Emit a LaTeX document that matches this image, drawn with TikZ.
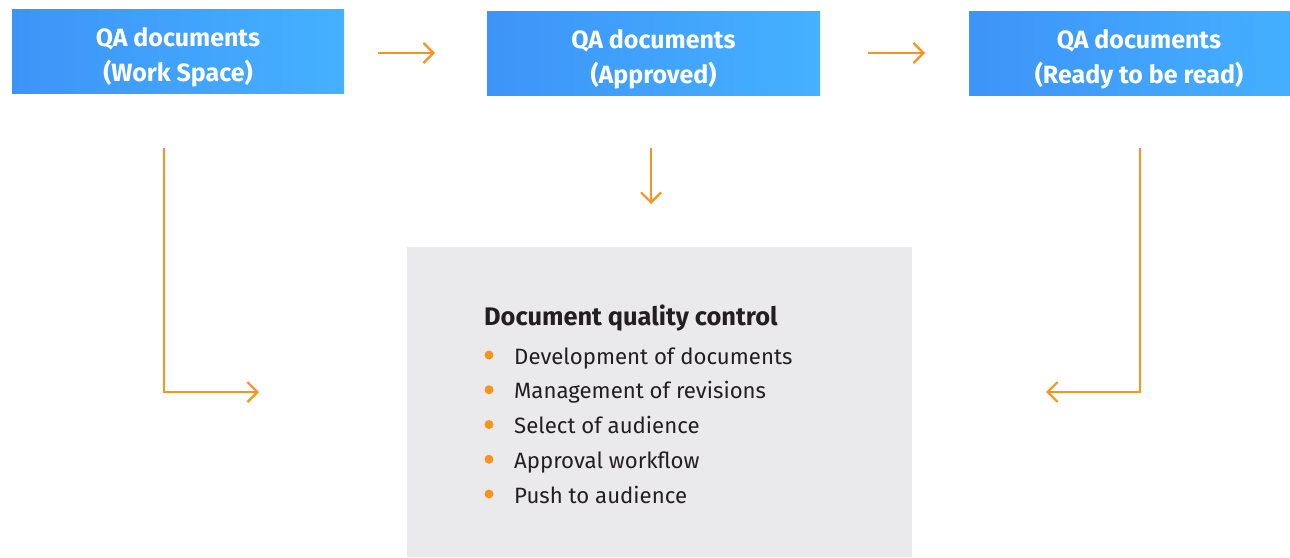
\documentclass[tikz,border=0pt]{standalone}
\usepackage{fontspec}
\setmainfont{Fira Sans}
\usetikzlibrary{arrows.meta}
\definecolor{qablueL}{HTML}{3D94F8}
\definecolor{qablueR}{HTML}{45B1FF}
\definecolor{qaorange}{HTML}{F7941D}
\definecolor{qagrey}{HTML}{EAEAEC}
\definecolor{qatext}{HTML}{231F20}
\tikzset{
	qabox/.style={left color=qablueL, right color=qablueR, draw=none, minimum width=333pt, minimum height=84pt, inner sep=0pt, text height=66pt, text=white, align=center, font=\fontsize{25}{35}\selectfont\bfseries},
	qcbox/.style={fill=qagrey, draw=none, minimum width=505pt, minimum height=310pt, inner sep=0pt},
	flow/.style={draw=qaorange, line width=2.2pt, -{Straight Barb[length=10pt,width=20pt]}},
	item/.style={anchor=base west, inner sep=0pt, text=qatext, font=\fontsize{22.2}{28}\selectfont},
	dot/.style={circle, fill=qaorange, minimum size=9pt, inner sep=0pt}
}

\begin{document}
\begin{tikzpicture}[x=1pt,y=-1pt]
		\clip (0,0) rectangle (1290,557);
		\node[qabox, minimum width=332pt] (ws) at (178,51) {QA documents\\(Work Space)};
		\node[qabox] (ap) at (653.5,53) {QA documents\\(Approved)};
		\node[qabox, minimum width=340pt] (rd) at (1139,53) {QA documents\\(Ready to be read)}; %runs off the right edge
		\node[qcbox] (qc) at (659.5,402) {};
		\node[item, font=\fontsize{25.4}{28}\selectfont\bfseries] (title) at (484,325) {Document quality control};
		\node[dot] (d1) at (489,355) {};
		\node[dot] (d2) at (489,389.75) {};
		\node[dot] (d3) at (489,424.5) {};
		\node[dot] (d4) at (489,459.25) {};
		\node[dot] (d5) at (489,494) {};
		\node[item] (i1) at (514,364) {Development of documents};
		\node[item] (i2) at (514,398.75) {Management of revisions};
		\node[item] (i3) at (514,433.5) {Select of audience};
		\node[item] (i4) at (514,468.25) {Approval workflow};
		\node[item] (i5) at (514,503) {Push to audience};
		\coordinate (0) at (378,53);
		\coordinate (1) at (435,53);
		\coordinate (2) at (868,53);
		\coordinate (3) at (925,53);
		\coordinate (4) at (164,148); %left down
		\coordinate (5) at (259,392);
		\coordinate (6) at (651,148);
		\coordinate (7) at (651,204);
		\coordinate (8) at (1140,148); %right down
		\coordinate (9) at (1046,392);
		\draw[flow] (0) to (1);
		\draw[flow] (2) to (3);
		\draw[flow] (4) |- (5);
		\draw[flow] (6) to (7);
		\draw[flow] (8) |- (9);
\end{tikzpicture}
\end{document}
